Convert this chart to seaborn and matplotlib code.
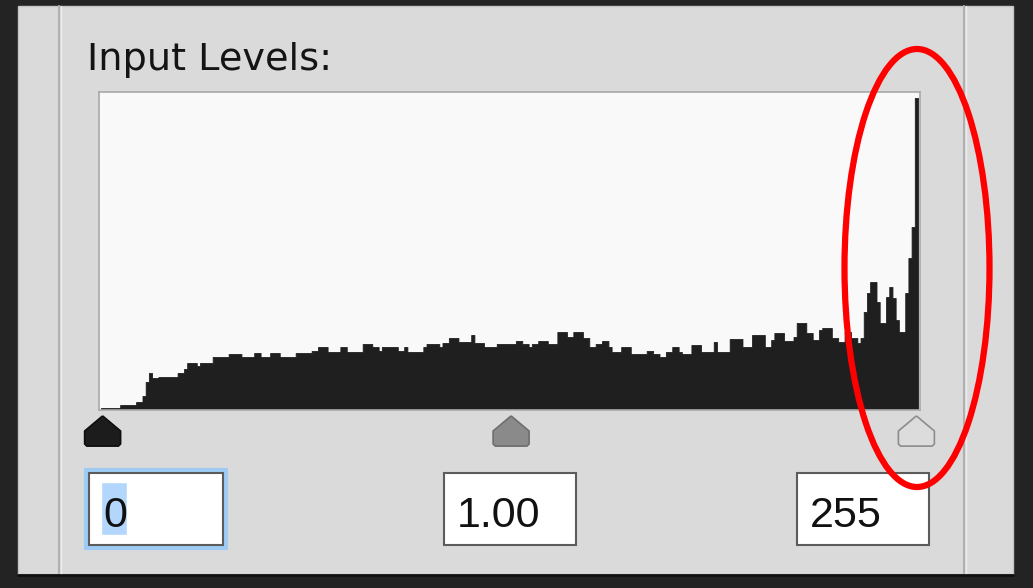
import numpy as np
import matplotlib.pyplot as plt
import seaborn as sns
from matplotlib.patches import Rectangle, Ellipse
from matplotlib.path import Path

# Histogram: level where a run starts, and its height
level_starts = [0, 6, 11, 13, 14, 15, 16, 18, 24, 26,
                27, 30, 31, 35, 40, 44, 48, 50, 53, 56,
                61, 66, 68, 71, 75, 77, 82, 85, 87, 88,
                93, 95, 96, 101, 102, 106, 107, 109, 112, 116,
                117, 120, 124, 130, 132, 134, 135, 137, 140, 143,
                146, 148, 151, 153, 155, 157, 159, 160, 163, 166,
                171, 173, 175, 177, 179, 181, 182, 185, 188, 192,
                193, 197, 201, 204, 208, 210, 211, 214, 217, 218,
                221, 223, 225, 226, 229, 231, 233, 235, 237, 238,
                239, 240, 241, 243, 244, 246, 247, 248, 249, 250,
                252, 253, 254, 255]
heights = [1, 4, 7, 13, 27, 36, 31, 32, 36, 40,
           46, 43, 46, 52, 55, 52, 56, 52, 56, 52,
           56, 58, 62, 57, 62, 57, 65, 62, 58, 62,
           58, 62, 57, 62, 65, 62, 66, 71, 67, 74,
           66, 62, 65, 68, 65, 62, 65, 68, 65, 77,
           72, 77, 71, 62, 65, 68, 62, 57, 62, 55,
           58, 55, 52, 57, 62, 57, 55, 64, 57, 67,
           57, 70, 62, 74, 62, 69, 76, 68, 72, 86,
           76, 69, 79, 81, 71, 67, 77, 71, 66, 71,
           97, 116, 127, 107, 86, 112, 122, 111, 89, 77,
           116, 151, 182, 311]

slider_levels = [0, 128, 255]
slider_colors = ['#1c1c1c', '#8a8a8a', '#dcdcdc']
slider_edges = ['#0e0e0e', '#6e6e6e', '#8c8c8c']

input_values = ['0', '1.00', '255']
title = 'Input Levels:'

levels = np.arange(256)
counts = np.repeat(heights, np.diff(level_starts + [256]))

sns.set_theme(style='white')
plt.rcParams['font.family'] = ['DejaVu Sans']

W, H = 1033, 588
fig = plt.figure(figsize=(W / 100, H / 100), dpi=100)
fig.patch.set_facecolor('#232323')


def px_axes(x0, y0, x1, y1):
    return fig.add_axes([x0 / W, 1 - y1 / H, (x1 - x0) / W, (y1 - y0) / H])


# dialog panel in pixel coordinates
bg = fig.add_axes([0, 0, 1, 1])
bg.set_xlim(0, W)
bg.set_ylim(H, 0)
bg.axis('off')
bg.add_patch(Rectangle((18, 6), 995, 568, fc='#dadada', ec='#c4c4c4', lw=1))
bg.plot([18, 1013], [575, 575], color='#101010', lw=2)
for xd in [59, 964]:
    bg.plot([xd, xd], [6, 573], color='#b0b0b0', lw=1.5)
    bg.plot([xd + 2, xd + 2], [6, 573], color='#ececec', lw=1)

bg.text(87, 70, title, fontsize=27.5, color='#141414', va='baseline')

# number fields
boxes = [(89, 223), (444, 576), (797, 929)]
text_x = [103, 457, 810]
bg.add_patch(Rectangle((86, 470), 140, 78, fc='none', ec='#9ecbf4', lw=3))
for (x0, x1), tx, val in zip(boxes, text_x, input_values):
    bg.add_patch(Rectangle((x0, 473), x1 - x0, 72, fc='white', ec='#5c5c5c', lw=1.5))
    bg.text(tx, 527, val, fontsize=31, family='Liberation Sans',
            color='#111111', va='baseline', zorder=4)
bg.add_patch(Rectangle((101, 482), 26, 53, fc='#b3d6fd', zorder=3))

# histogram
ax = px_axes(99, 92, 920, 410)
ax.set_facecolor('#f9f9f9')
sns.histplot(x=levels, weights=counts, discrete=True, element='step',
             fill=True, color='#1f1f1f', alpha=1, linewidth=0.6, ax=ax)
ax.set_xlim(-1.13, 256.13)
ax.set_ylim(-1, 317)
ax.set_xticks([])
ax.set_yticks([])
ax.set_xlabel('')
ax.set_ylabel('')
for sp in ax.spines.values():
    sp.set_visible(True)
    sp.set_color('#a9a9a9')
    sp.set_linewidth(1.2)

# slider triangles
sl = px_axes(99, 412, 920, 450)
sl.set_xlim(-1.13, 256.13)
sl.set_ylim(0, 1)
sl.axis('off')
verts = [(0, 0.42), (0.5, 0.0), (0.5, -0.36), (0.44, -0.42), (-0.44, -0.42),
         (-0.5, -0.36), (-0.5, 0.0), (0, 0.42)]
house = Path(verts)
sl.scatter(slider_levels, [0.5] * 3, marker=house, s=671,
           c=slider_colors, edgecolors=slider_edges, linewidths=1.2,
           clip_on=False)

# red highlight ellipse
top = fig.add_axes([0, 0, 1, 1])
top.set_xlim(0, W)
top.set_ylim(H, 0)
top.axis('off')
top.add_patch(Ellipse((917, 268), 145, 438, fill=False, ec='#ff0000', lw=4.5))

fig.savefig('out.png', dpi=100)
